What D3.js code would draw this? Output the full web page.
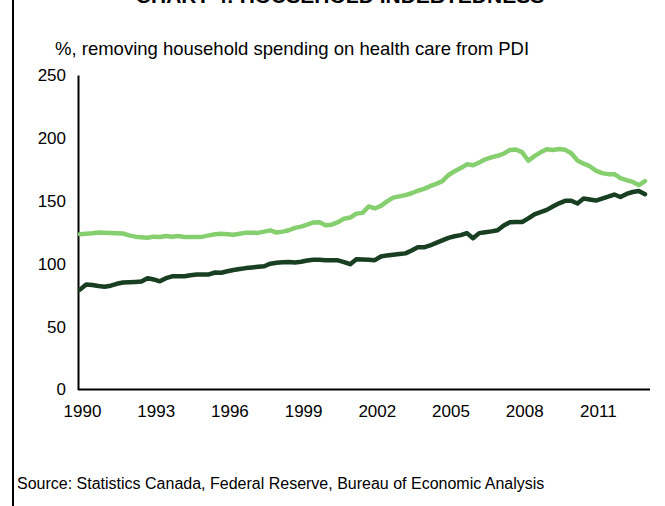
<!DOCTYPE html>
<html>
<head>
	<script src="https://d3js.org/d3.v7.min.js"></script>
	<style>
		body { margin: 0; background: #fff; }
		text { font-family: "Liberation Sans", Arial, sans-serif; fill: #000; }
	</style>
</head>
<body>
	<div id="chart_container"></div>
	<script>
		// quarterly, 1990Q1 .. 2013Q1
		var startYear = 1990;
		var tickYears = [1990, 1993, 1996, 1999, 2002, 2005, 2008, 2011];
		var yTicks = [0, 50, 100, 150, 200, 250];

		// light line
		var seriesUS = [
			123.4, 123.8, 124.2, 124.8, 124.7, 124.5, 124.2, 124, 122.5, 121.5,
			121, 120.6, 121.5, 121.2, 122, 121.5, 122, 121.2, 121.2, 121.3,
			121.5, 122.5, 123.4, 123.8, 123.4, 123, 123.8, 124.7, 124.6, 124.5,
			125.5, 126.5, 124.8, 125.5, 126.6, 128.5, 129.5, 131, 132.8, 133,
			130.5, 131, 133, 135.8, 136.7, 139.8, 140.4, 145.5, 143.9, 146,
			149.5, 152.5, 153.5, 154.5, 156, 158, 159.5, 161.6, 163.5, 165.6,
			170.5, 173.5, 176, 179, 178.3, 180.5, 183, 184.5, 185.8, 187.5,
			190.4, 190.8, 188.5, 181.8, 185.5, 188.5, 191, 190.4, 191.2, 190.5,
			187.8, 182, 179.5, 177.5, 174, 172, 171.2, 171.2, 168, 166.5,
			165, 162.5, 165.6
		];

		// dark line
		var seriesCanada = [
			79.4, 83.5, 83, 82.2, 81.7, 82.5, 84, 85, 85.2, 85.5,
			85.8, 88.5, 87.5, 86, 88.5, 90, 90, 90, 90.8, 91.4,
			91.5, 91.5, 93, 92.8, 94, 95, 95.8, 96.5, 97, 97.5,
			98, 100, 100.8, 101.1, 101.4, 100.9, 101.6, 102.6, 103.1, 103.1,
			102.7, 102.7, 102.7, 101.3, 99.6, 103.5, 103.3, 103.1, 102.8, 105.7,
			106.6, 107.2, 107.7, 108.2, 110.5, 113, 113, 114.5, 116.5, 118.5,
			120.5, 121.8, 122.7, 124.3, 120.2, 124.3, 125, 125.7, 126.6, 130.4,
			133, 133.2, 133.2, 136, 139.3, 141, 142.8, 145.5, 148, 150,
			150, 147.9, 151.8, 151, 150.2, 151.8, 153.3, 155, 153, 155.5,
			157, 157.8, 155.2
		];

		var width = 665, height = 506;
		var margin = { top: 75, right: 15, bottom: 116, left: 78 };

		var svg = d3.select("#chart_container")
			.append("svg")
			.attr("width", width)
			.attr("height", height);

		// frame on the left
		svg.append("line")
			.attr("x1", 13).attr("x2", 13)
			.attr("y1", 0).attr("y2", height)
			.attr("stroke", "#000")
			.attr("stroke-width", 2);

		// clipped title at the very top
		svg.append("text")
			.attr("x", 340)
			.attr("y", 3)
			.attr("text-anchor", "middle")
			.style("font-size", "21px")
			.style("font-weight", "bold")
			.text("CHART 4: HOUSEHOLD INDEBTEDNESS");

		svg.append("text")
			.attr("x", 55)
			.attr("y", 55)
			.style("font-size", "18.5px")
			.text("%, removing household spending on health care from PDI");

		svg.append("text")
			.attr("x", 17)
			.attr("y", 489)
			.style("font-size", "16px")
			.text("Source: Statistics Canada, Federal Reserve, Bureau of Economic Analysis");

		var n = seriesUS.length;
		var x = d3.scaleLinear().domain([0, n - 1]).range([80, 645]);
		var y = d3.scaleLinear().domain([0, 250]).range([389.5, 75]);

		// axes
		var yAxis = svg.append("g")
			.attr("transform", "translate(" + margin.left + ",0)")
			.call(d3.axisLeft(y).tickValues(yTicks).tickSize(0).tickPadding(12));
		yAxis.select(".domain").attr("stroke", "#000").attr("stroke-width", 2);
		yAxis.selectAll("text").style("font-size", "17px").style("font-family", "Liberation Sans, Arial, sans-serif");

		var xAxis = svg.append("g")
			.attr("transform", "translate(0," + y(0) + ")")
			.call(d3.axisBottom(x)
				.tickValues(tickYears.map(function(yr) { return (yr - startYear) * 4; }))
				.tickFormat(function(d) { return startYear + d / 4; })
				.tickSize(0).tickPadding(15));
		xAxis.select(".domain")
			.attr("d", "M" + margin.left + ",0H650")
			.attr("stroke", "#000").attr("stroke-width", 2);
		xAxis.selectAll("text")
			.attr("dx", 2)
			.style("font-size", "17px").style("font-family", "Liberation Sans, Arial, sans-serif");

		var line = d3.line()
			.x(function(d, i) { return x(i); })
			.y(function(d) { return y(d); });

		svg.append("path")
			.datum(seriesUS)
			.attr("fill", "none")
			.attr("stroke", "#86cf6f")
			.attr("stroke-width", 4.5)
			.attr("stroke-linejoin", "round")
			.attr("stroke-linecap", "round")
			.attr("d", line);

		svg.append("path")
			.datum(seriesCanada)
			.attr("fill", "none")
			.attr("stroke", "#183f21")
			.attr("stroke-width", 4.5)
			.attr("stroke-linejoin", "round")
			.attr("stroke-linecap", "round")
			.attr("d", line);
	</script>
</body>
</html>
